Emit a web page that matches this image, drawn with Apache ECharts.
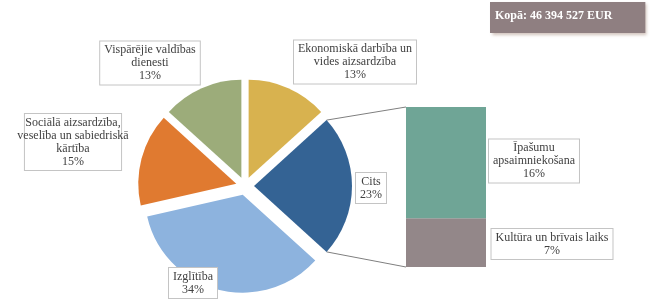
<!DOCTYPE html>
<html>
<head>
    <meta charset="utf-8">
    <title>Pie of bar</title>
    <script src="https://cdn.jsdelivr.net/npm/echarts@6/dist/echarts.min.js"></script>
    <style>
        html, body { margin: 0; padding: 0; background: #fff; }
        #main { width: 651px; height: 300px; }
    </style>
</head>
<body>
    <div id="main"></div>
    <script>
        // dati
        var pieNames = ['Ekonomiskā darbība un\nvides aizsardzība', 'Cits', 'Izglītība',
            'Sociālā aizsardzība,\nveselība un sabiedriskā\nkārtība', 'Vispārējie valdības\ndienesti'];
        var pieValues = [13, 23, 34, 15, 13];
        var barNames = ['Kultūra un brīvais laiks', 'Īpašumu\napsaimniekošana'];
        var barValues = [7, 16];
        var totalText = 'Kopā: 46 394 527 EUR';

        var pieColors = ['#d8b24f', '#346394', '#8db3de', '#e07a30', '#9cac7a'];
        var barColors = ['#938789', '#6fa596'];
        // label centres (px)
        var pieLabelPos = [[355, 62], [371, 188], [193, 283], [73, 142], [150, 63]];
        var barLabelPos = [[552, 244], [534, 161]];

        var pieCenter = [245, 186], pieR = 98, explode = 9;

        var labelStyle = {
            show: true,
            fontFamily: 'Liberation Serif',
            fontSize: 12,
            lineHeight: 13,
            color: '#404040',
            backgroundColor: '#fff',
            borderColor: '#c4c4c4',
            borderWidth: 1,
            padding: [2, 4],
            align: 'center',
            overflow: 'none'
        };

        var chart = echarts.init(document.getElementById('main'));
        var barTotal = barValues.reduce(function (a, b) { return a + b; }, 0);

        var option = {
            animation: false,
            title: {
                text: totalText,
                left: 490,
                top: 2,
                padding: [8, 33, 11, 5],
                backgroundColor: '#8f7f81',
                shadowBlur: 3,
                shadowColor: 'rgba(120,80,60,0.35)',
                shadowOffsetX: 2,
                shadowOffsetY: 2,
                textStyle: { color: '#fff', fontFamily: 'Liberation Serif', fontSize: 12, fontWeight: 'bold' }
            },
            grid: { left: 406, right: 165, top: 107, bottom: 33 },
            xAxis: { type: 'category', data: ['x'], show: false },
            yAxis: { type: 'value', min: 0, max: barTotal, show: false },
            series: [
                {
                    // exploded slices
                    type: 'pie',
                    center: pieCenter,
                    radius: pieR,
                    startAngle: 90,
                    selectedMode: 'multiple',
                    selectedOffset: explode,
                    label: { show: false },
                    labelLine: { show: false },
                    emphasis: { disabled: true },
                    data: pieValues.map(function (v, i) {
                        return { name: pieNames[i], value: v, selected: true, itemStyle: { color: pieColors[i] } };
                    })
                },
                {
                    // labels only
                    type: 'pie',
                    center: pieCenter,
                    radius: pieR,
                    startAngle: 90,
                    silent: true,
                    z: 3,
                    itemStyle: { color: 'rgba(0,0,0,0)' },
                    label: Object.assign({}, labelStyle, {
                        formatter: function (p) { return p.name + '\n' + p.value + '%'; }
                    }),
                    labelLine: { show: false },
                    labelLayout: function (p) {
                        var pos = pieLabelPos[p.dataIndex];
                        return { x: pos[0], y: pos[1], align: 'center', verticalAlign: 'middle' };
                    },
                    data: pieValues.map(function (v, i) {
                        return { name: pieNames[i], value: v };
                    })
                }
            ].concat(barValues.map(function (v, i) {
                return {
                    type: 'bar',
                    stack: 'b',
                    barWidth: '100%',
                    barCategoryGap: 0,
                    itemStyle: { color: barColors[i] },
                    label: Object.assign({}, labelStyle, {
                        position: 'right',
                        formatter: barNames[i] + '\n' + v + '%'
                    }),
                    labelLayout: function () {
                        return { x: barLabelPos[i][0], y: barLabelPos[i][1], align: 'center', verticalAlign: 'middle' };
                    },
                    data: [v]
                };
            }))
        };
        chart.setOption(option);

        // connector lines from "Cits" slice to the bar
        var sum = pieValues.reduce(function (a, b) { return a + b; }, 0);
        var a0 = pieValues[0] / sum * 2 * Math.PI;
        var a1 = a0 + pieValues[1] / sum * 2 * Math.PI;
        var mid = (a0 + a1) / 2;
        var cx = pieCenter[0] + explode * Math.sin(mid), cy = pieCenter[1] - explode * Math.cos(mid);
        var rect = chart.getModel().getComponent('grid').coordinateSystem.getRect();
        var pTop = [cx + pieR * Math.sin(a0), cy - pieR * Math.cos(a0)];
        var pBot = [cx + pieR * Math.sin(a1), cy - pieR * Math.cos(a1)];
        var lineStyle = { stroke: '#7f7f7f', lineWidth: 1 };
        chart.setOption({
            graphic: [
                { type: 'line', shape: { x1: pTop[0], y1: pTop[1], x2: rect.x, y2: rect.y }, style: lineStyle },
                { type: 'line', shape: { x1: pBot[0], y1: pBot[1], x2: rect.x, y2: rect.y + rect.height }, style: lineStyle }
            ]
        });
    </script>
</body>
</html>
